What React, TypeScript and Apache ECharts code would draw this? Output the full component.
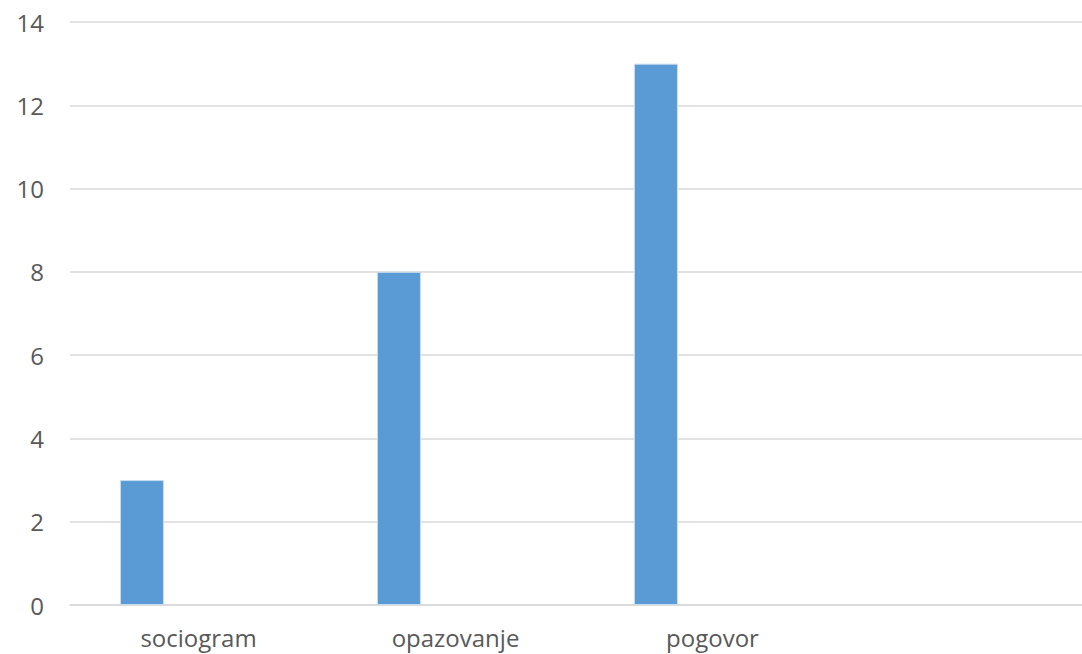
import React, { useEffect, useRef } from "react";
import * as echarts from "echarts";

const categories = ["sociogram", "opazovanje", "pogovor", ""];
const values = [3, 8, 13, null];
const emptySeries = [null, null, null, null];
const yTicks = { min: 0, max: 14, interval: 2 };

export default function App() {
  const ref = useRef<HTMLDivElement>(null);
  useEffect(() => {
    if (!ref.current) return;
    const chart = echarts.init(ref.current, null, { renderer: "svg" });
    const font = "'Open Sans', 'Noto Sans', sans-serif";
    chart.setOption({
      animation: false,
      backgroundColor: "#ffffff",
      grid: { left: 70, right: 0, top: 22, bottom: 49 },
      xAxis: {
        type: "category",
        data: categories,
        axisLine: { show: true, lineStyle: { color: "#D9D9D9", width: 1.5 } },
        axisTick: { show: false },
        axisLabel: { color: "#595959", fontSize: 24, fontFamily: font, margin: 20 },
      },
      yAxis: {
        type: "value",
        min: yTicks.min,
        max: yTicks.max,
        interval: yTicks.interval,
        axisLine: { show: false },
        axisTick: { show: false },
        splitLine: { lineStyle: { color: "#D9D9D9", width: 1.5 } },
        axisLabel: { color: "#595959", fontSize: 24, fontFamily: font, margin: 26 },
      },
      series: [
        {
          type: "bar",
          data: values,
          barWidth: 44,
          barGap: "157%",
          itemStyle: { color: "#5B9BD5", borderColor: "#C9DDF0", borderWidth: 1 },
        },
        {
          type: "bar",
          data: emptySeries,
          barWidth: 44,
        },
      ],
    });
    return () => chart.dispose();
  }, []);
  return (
    <div style={{ position: "absolute", left: 0, top: 0, width: 1082, height: 654, overflow: "hidden" }}>
      <div ref={ref} style={{ width: 1098, height: 654 }} />
    </div>
  );
}
